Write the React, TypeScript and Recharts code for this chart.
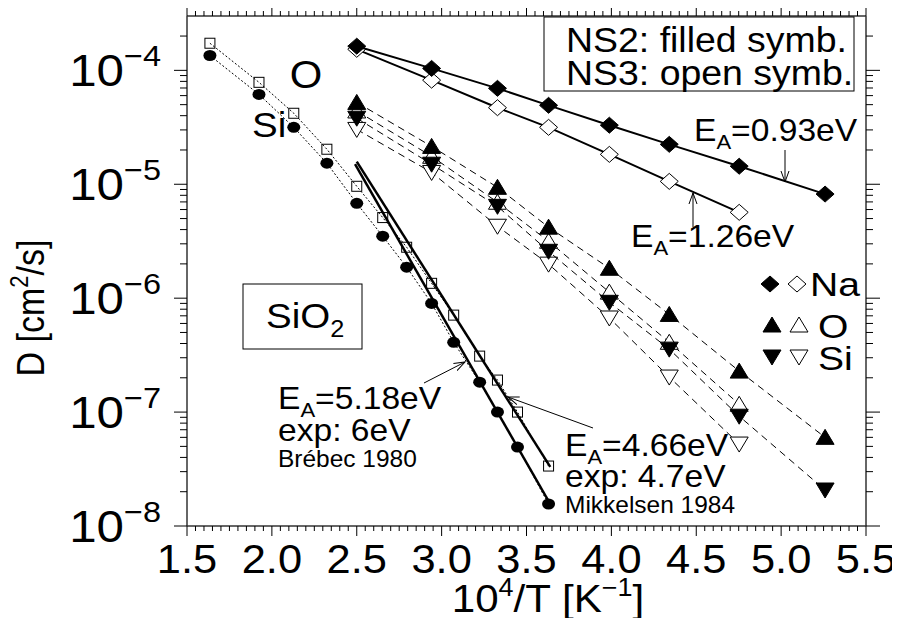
import React from "react";
import { ComposedChart, Scatter, XAxis, YAxis } from "recharts";

// inverse temperature 10^4/T [1/K] and diffusion constants D [cm^2/s]
const pureX = [1.635, 1.924, 2.129, 2.324, 2.5, 2.653, 2.794, 2.941, 3.071, 3.224, 3.329, 3.447, 3.63];
const pureO = [1.73e-4, 7.85e-5, 4.2e-5, 2.03e-5, 9.6e-6, 5.1e-6, 2.8e-6, 1.35e-6, 7.1e-7, 3.1e-7, 1.91e-7, 1.0e-7, 3.36e-8];
const pureSi = [1.35e-4, 6.15e-5, 3.16e-5, 1.53e-5, 6.8e-6, 3.5e-6, 1.87e-6, 9.0e-7, 4.1e-7, 1.83e-7, 1.0e-7, 4.93e-8, 1.56e-8];

const ns2X = [2.5, 2.941, 3.329, 3.63, 3.988, 4.341, 4.753, 5.259];
const ns3X = [2.5, 2.941, 3.329, 3.63, 3.988, 4.341, 4.753];
const naNS2 = [1.63e-4, 1.04e-4, 6.95e-5, 4.93e-5, 3.3e-5, 2.24e-5, 1.44e-5, 8.2e-6];
const naNS3 = [1.53e-4, 8.2e-5, 4.7e-5, 3.16e-5, 1.83e-5, 1.06e-5, 5.67e-6];
const oNS2 = [5.23e-5, 2.15e-5, 9.4e-6, 4.2e-6, 1.83e-6, 7.2e-7, 2.29e-7, 6.0e-8];
const oNS3 = [4.4e-5, 1.76e-5, 6.95e-6, 3.16e-6, 1.13e-6, 4.1e-7, 1.17e-7];
const siNS2 = [3.8e-5, 1.5e-5, 6.4e-6, 2.58e-6, 9.2e-7, 3.57e-7, 9.2e-8, 2.07e-8];
const siNS3 = [3.03e-5, 1.27e-5, 4.28e-6, 1.99e-6, 6.7e-7, 2.03e-7, 5.24e-8];

// Arrhenius fits for pure SiO2 (end points)
const fitOX = [2.5, 3.64];
const fitOD = [1.58e-5, 3.3e-8];
const fitSiX = [2.49, 3.64];
const fitSiD = [1.5e-5, 1.56e-8];

const xTickLabels = ["1.5", "2.0", "2.5", "3.0", "3.5", "4.0", "4.5", "5.0", "5.5"];
const yDecades = [-8, -7, -6, -5, -4];

const W = 884;
const H = 610;
const X_DOMAIN: [number, number] = [1.5, 5.5];
const Y_DOMAIN: [number, number] = [1e-8, 3e-4];
const FONT = "'Liberation Sans', Arial, Helvetica, sans-serif";

const xTicks = Array.from({ length: 81 }, (_, i) => +(1.5 + i * 0.05).toFixed(2));
const yTicks: number[] = [];
yDecades.forEach((e) => {
  for (let m = 1; m <= 9; m++) {
    const v = m * Math.pow(10, e);
    if (v < Y_DOMAIN[1]) yTicks.push(v);
  }
});

const pts = (xs: number[], ds: number[]) => xs.map((x, i) => ({ x, d: ds[i] }));

const isMajorX = (v: number) => Math.abs(v * 2 - Math.round(v * 2)) < 1e-6;
const isDecade = (v: number) => Math.abs(Math.log10(v) - Math.round(Math.log10(v))) < 1e-6;

// text with a slight horizontal stretch, the lettering here is wide
const T = ({ x, y, size, sx = 1, anchor = "start", children }: any) => (
  <text
    transform={`translate(${x},${y}) scale(${sx},1)`}
    fontSize={size}
    fontFamily={FONT}
    textAnchor={anchor}
    fill="#000"
  >
    {children}
  </text>
);

const BottomTick = ({ x, y, payload }: any) => {
  const major = isMajorX(payload.value);
  const label = xTickLabels.find((l) => Math.abs(parseFloat(l) - payload.value) < 1e-6);
  return (
    <g>
      <line x1={x} x2={x} y1={y} y2={y + (major ? 10 : 5)} stroke="#000" strokeWidth={1} />
      {major && label && (
        <T x={x} y={y + 47} size={41} sx={1.06} anchor="middle">
          {label}
        </T>
      )}
    </g>
  );
};

const TopTick = ({ x, y, payload }: any) => {
  const major = isMajorX(payload.value);
  return <line x1={x} x2={x} y1={y} y2={y - (major ? 10 : 5)} stroke="#000" strokeWidth={1} />;
};

const LeftTick = ({ x, y, payload }: any) => {
  const major = isDecade(payload.value);
  const exp = Math.round(Math.log10(payload.value));
  return (
    <g>
      <line x1={x} x2={x - (major ? 13 : 7)} y1={y} y2={y} stroke="#000" strokeWidth={1} />
      {major && (
        <T x={x - 26} y={y + 16} size={44} sx={1.12} anchor="end">
          10
          <tspan dy={-20} fontSize={29}>
            {"\u2212" + Math.abs(exp)}
          </tspan>
        </T>
      )}
    </g>
  );
};

const RightTick = ({ x, y, payload }: any) => {
  const major = isDecade(payload.value);
  return <line x1={x} x2={x + (major ? 14 : 7)} y1={y} y2={y} stroke="#000" strokeWidth={1} />;
};

const openSquare = (p: any) => (
  <rect x={p.cx - 5} y={p.cy - 5} width={10} height={10} fill="none" stroke="#000" strokeWidth={1} />
);
const dot = (p: any) => <ellipse cx={p.cx} cy={p.cy} rx={6.5} ry={5.5} fill="#000" />;
const diamond = (fill: string) => (p: any) => (
  <polygon
    points={`${p.cx},${p.cy - 8} ${p.cx + 9},${p.cy} ${p.cx},${p.cy + 8} ${p.cx - 9},${p.cy}`}
    fill={fill}
    stroke="#000"
    strokeWidth={1}
  />
);
const triUp = (fill: string) => (p: any) => (
  <polygon
    points={`${p.cx},${p.cy - 8} ${p.cx + 9},${p.cy + 7} ${p.cx - 9},${p.cy + 7}`}
    fill={fill}
    stroke="#000"
    strokeWidth={1}
  />
);
const triDown = (fill: string) => (p: any) => (
  <polygon
    points={`${p.cx},${p.cy + 8} ${p.cx + 9},${p.cy - 7} ${p.cx - 9},${p.cy - 7}`}
    fill={fill}
    stroke="#000"
    strokeWidth={1}
  />
);
const none = () => <g />;

const dotted = { stroke: "#000", strokeWidth: 1, strokeDasharray: "2 2" };
const dashed = { stroke: "#000", strokeWidth: 1, strokeDasharray: "7 5" };
const solid = { stroke: "#000", strokeWidth: 2 };
const fitLine = { stroke: "#000", strokeWidth: 2.5 };

const EA = ({ x, y, value }: { x: number; y: number; value: string }) => (
  <T x={x} y={y} size={32} sx={1.05}>
    E
    <tspan dy={8} fontSize={21}>
      A
    </tspan>
    <tspan dy={-8}>{"=" + value}</tspan>
  </T>
);

const Arrow = ({ x1, y1, x2, y2 }: { x1: number; y1: number; x2: number; y2: number }) => (
  <line x1={x1} y1={y1} x2={x2} y2={y2} stroke="#000" strokeWidth={1} markerEnd="url(#arrowHead)" />
);

const Annotations = () => (
  <svg width={W} height={H} style={{ position: "absolute", left: 0, top: 0, pointerEvents: "none" }}>
    <defs>
      <marker id="arrowHead" markerWidth={12} markerHeight={10} refX={11} refY={5} orient="auto" markerUnits="userSpaceOnUse">
        <path d="M0,1 L11,5 L0,9" fill="none" stroke="#000" strokeWidth={1} />
      </marker>
    </defs>

    {/* axis titles */}
    <T x={540} y={604} size={39} sx={1.08} anchor="middle">
      10
      <tspan dy={-16} fontSize={25}>4</tspan>
      <tspan dy={16}>/T [K</tspan>
      <tspan dy={-16} fontSize={25}>{"\u22121"}</tspan>
      <tspan dy={16}>]</tspan>
    </T>
    <text transform="translate(36,300) rotate(-90) scale(1,1.15)" textAnchor="middle" fontSize={34} fontFamily={FONT} fill="#000">
      D [cm
      <tspan dy={-14} fontSize={22}>2</tspan>
      <tspan dy={14}>/s]</tspan>
    </text>

    {/* sample legend */}
    <rect x={536} y={9} width={310} height={74} fill="#fff" stroke="#000" strokeWidth={1} />
    <T x={558} y={44} size={35} sx={1.07}>NS2: filled symb.</T>
    <T x={558} y={77} size={35} sx={1.07}>NS3: open symb.</T>

    <T x={298} y={80} size={38} sx={1.1} anchor="middle">O</T>
    <T x={244} y={129} size={35} sx={1.1}>Si</T>

    <rect x={235} y={276} width={119} height={65} fill="#fff" stroke="#000" strokeWidth={1} />
    <T x={258} y={320} size={35} sx={1.1}>
      SiO
      <tspan dy={9} fontSize={23}>2</tspan>
    </T>

    {/* activation energies */}
    <EA x={686} y={133} value="0.93eV" />
    <Arrow x1={777} y1={142} x2={777} y2={174} />
    <EA x={623} y={239} value="1.26eV" />
    <Arrow x1={685} y1={219} x2={685} y2={185} />

    <EA x={270} y={401} value="5.18eV" />
    <T x={270} y={433} size={32} sx={1.05}>exp: 6eV</T>
    <T x={270} y={459} size={24} sx={1.02}>Brébec 1980</T>
    <Arrow x1={416} y1={375} x2={457} y2={354} />

    <EA x={557} y={448} value="4.66eV" />
    <T x={557} y={479} size={32} sx={1.05}>exp: 4.7eV</T>
    <T x={557} y={505} size={24} sx={1.02}>Mikkelsen 1984</T>
    <Arrow x1={585} y1={420} x2={500} y2={389} />

    {/* species legend */}
    {diamond("#000")({ cx: 762, cy: 276 })}
    {diamond("#fff")({ cx: 789, cy: 276 })}
    <T x={802} y={288} size={34} sx={1.15}>Na</T>
    {triUp("#000")({ cx: 764, cy: 317 })}
    {triUp("#fff")({ cx: 791, cy: 317 })}
    <T x={810} y={330} size={34} sx={1.15}>O</T>
    {triDown("#000")({ cx: 764, cy: 349 })}
    {triDown("#fff")({ cx: 791, cy: 349 })}
    <T x={810} y={362} size={34} sx={1.15}>Si</T>
  </svg>
);

export default function App() {
  return (
    <div style={{ position: "relative", width: W, height: H }}>
      <ComposedChart width={W} height={H} margin={{ top: 0, right: 0, bottom: 0, left: 0 }}>
        <XAxis
          xAxisId={0}
          dataKey="x"
          type="number"
          domain={X_DOMAIN}
          ticks={xTicks}
          interval={0}
          allowDataOverflow
          height={92}
          tickSize={0}
          tickMargin={0}
          tick={<BottomTick />}
          axisLine={{ stroke: "#333", strokeWidth: 1.5 }}
        />
        <XAxis
          xAxisId="top"
          orientation="top"
          dataKey="x"
          type="number"
          domain={X_DOMAIN}
          ticks={xTicks}
          interval={0}
          allowDataOverflow
          height={8}
          tickSize={0}
          tickMargin={0}
          tick={<TopTick />}
          axisLine={{ stroke: "#333", strokeWidth: 1.5 }}
        />
        <YAxis
          yAxisId={0}
          dataKey="d"
          type="number"
          scale="log"
          domain={Y_DOMAIN}
          ticks={yTicks}
          interval={0}
          allowDataOverflow
          width={179}
          tickSize={0}
          tickMargin={0}
          tick={<LeftTick />}
          axisLine={{ stroke: "#333", strokeWidth: 1.5 }}
        />
        <YAxis
          yAxisId="right"
          orientation="right"
          dataKey="d"
          type="number"
          scale="log"
          domain={Y_DOMAIN}
          ticks={yTicks}
          interval={0}
          allowDataOverflow
          width={26}
          tickSize={0}
          tickMargin={0}
          tick={<RightTick />}
          axisLine={{ stroke: "#333", strokeWidth: 1.5 }}
        />

        {/* pure SiO2 */}
        <Scatter data={pts(pureX, pureO)} line={dotted} lineType="joint" shape={openSquare} isAnimationActive={false} />
        <Scatter data={pts(pureX, pureSi)} line={dotted} lineType="joint" shape={dot} isAnimationActive={false} />
        <Scatter data={pts(fitOX, fitOD)} line={fitLine} lineType="joint" shape={none} isAnimationActive={false} />
        <Scatter data={pts(fitSiX, fitSiD)} line={fitLine} lineType="joint" shape={none} isAnimationActive={false} />

        {/* sodium silicates */}
        <Scatter data={pts(ns3X, oNS3)} line={dashed} lineType="joint" shape={triUp("#fff")} isAnimationActive={false} />
        <Scatter data={pts(ns3X, siNS3)} line={dashed} lineType="joint" shape={triDown("#fff")} isAnimationActive={false} />
        <Scatter data={pts(ns2X, oNS2)} line={dashed} lineType="joint" shape={triUp("#000")} isAnimationActive={false} />
        <Scatter data={pts(ns2X, siNS2)} line={dashed} lineType="joint" shape={triDown("#000")} isAnimationActive={false} />
        <Scatter data={pts(ns3X, naNS3)} line={solid} lineType="joint" shape={diamond("#fff")} isAnimationActive={false} />
        <Scatter data={pts(ns2X, naNS2)} line={solid} lineType="joint" shape={diamond("#000")} isAnimationActive={false} />
      </ComposedChart>
      <Annotations />
    </div>
  );
}
